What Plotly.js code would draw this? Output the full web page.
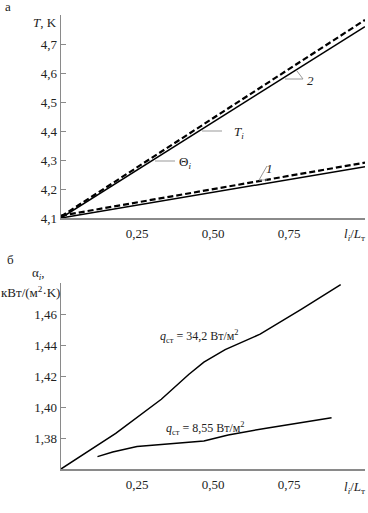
<!DOCTYPE html>
<html>
<head>
<meta charset="utf-8">
<script src="https://cdn.plot.ly/plotly-3.0.1.min.js"></script>
<style>html,body{margin:0;padding:0;background:#fff;}#chart{width:368px;height:513px;}</style>
</head>
<body>
<div id="chart"></div>
<script>
// ---- data ----
const xRel = [0, 0.5, 1.0];
const T2 = [4.1, 4.43, 4.76];          // curve 2, T_i (solid)
const Theta2 = [4.105, 4.444, 4.783];  // curve 2, Θ_i (dashed)
const T1 = [4.1, 4.189, 4.277];        // curve 1, T_i (solid)
const Theta1 = [4.108, 4.200, 4.291];  // curve 1, Θ_i (dashed)

const x342 = [0, 0.18, 0.33, 0.42, 0.47, 0.54, 0.655, 0.79, 0.92];
const a342 = [1.36, 1.383, 1.405, 1.421, 1.429, 1.437, 1.447, 1.463, 1.479];
const x855 = [0.12, 0.17, 0.25, 0.47, 0.55, 0.68, 0.89];
const a855 = [1.368, 1.371, 1.3745, 1.378, 1.382, 1.3865, 1.393];

const xTickVals = [0.125, 0.25, 0.375, 0.5, 0.625, 0.75, 0.875, 1.0];
const xTickText = ['', '0,25', '', '0,50', '', '0,75', '', ''];
const xLabelVals = [0.25, 0.5, 0.75];
const xLabelText = ['0,25', '0,50', '0,75'];
const yTopVals = [4.1, 4.2, 4.3, 4.4, 4.5, 4.6, 4.7, 4.8];
const yTopText = ['4,1', '4,2', '4,3', '4,4', '4,5', '4,6', '4,7', ''];
const yBotVals = [1.38, 1.40, 1.42, 1.44, 1.46, 1.48];
const yBotText = ['1,38', '1,40', '1,42', '1,44', '1,46', ''];

// ---- layout helpers ----
const W = 368, H = 513;
const px = x => x / W;
const py = y => 1 - y / H;
const FONT = 'Liberation Serif';
const AX = '#8a8a8a';

const solid = {color: '#000', width: 1.5};
const dashed = {color: '#000', width: 2.2, dash: '6px,3px'};

const traces = [
  {x: xRel, y: T2, mode: 'lines', line: solid, xaxis: 'x', yaxis: 'y'},
  {x: xRel, y: Theta2, mode: 'lines', line: dashed, xaxis: 'x', yaxis: 'y'},
  {x: xRel, y: T1, mode: 'lines', line: solid, xaxis: 'x', yaxis: 'y'},
  {x: xRel, y: Theta1, mode: 'lines', line: dashed, xaxis: 'x', yaxis: 'y'},
  {x: x342, y: a342, mode: 'lines', line: solid, xaxis: 'x2', yaxis: 'y2'},
  {x: x855, y: a855, mode: 'lines', line: solid, xaxis: 'x2', yaxis: 'y2'}
];

const XDOM = [px(61), px(365)];
// labelled axis: invisible outside ticks push the labels down
function xax(anchor) {
  return {
    domain: XDOM, range: [0, 1.0], anchor: anchor,
    showline: true, linecolor: AX, linewidth: 1.5,
    ticks: 'outside', ticklen: 3, tickwidth: 1, tickcolor: 'rgba(0,0,0,0)',
    tickvals: xLabelVals, ticktext: xLabelText,
    showgrid: false, zeroline: false, fixedrange: true,
    tickfont: {family: FONT, size: 13, color: '#222'}
  };
}
// overlay axis that only draws the inside ticks
function xticks(over, anchor) {
  return {
    domain: XDOM, range: [0, 1.0], anchor: anchor, overlaying: over, side: 'bottom',
    showline: false, showticklabels: false,
    ticks: 'inside', ticklen: 5, tickwidth: 1, tickcolor: AX,
    tickvals: xTickVals, ticktext: xTickText,
    showgrid: false, zeroline: false, fixedrange: true
  };
}
function yax(anchor, dom, rng, vals, text) {
  return {
    domain: dom, range: rng, anchor: anchor,
    showline: true, linecolor: AX, linewidth: 1.5,
    ticks: 'inside', ticklen: 5, tickwidth: 1, tickcolor: AX,
    tickvals: vals, ticktext: text,
    showgrid: false, zeroline: false, fixedrange: true,
    tickfont: {family: FONT, size: 13, color: '#222'}
  };
}

const txt = (x, y, text, opts) => Object.assign({
  xref: 'paper', yref: 'paper', x: px(x), y: py(y), text: text,
  showarrow: false, xanchor: 'center', yanchor: 'middle',
  font: {family: FONT, size: 13, color: '#222'}
}, opts || {});

const leader = (x0, y0, x1, y1) => ({
  type: 'line', xref: 'paper', yref: 'paper',
  x0: px(x0), y0: py(y0), x1: px(x1), y1: py(y1),
  line: {color: '#999', width: 1}
});

const small = {font: {family: FONT, size: 12, color: '#222'}};

const layout = {
  width: W, height: H,
  margin: {l: 0, r: 0, t: 0, b: 0},
  paper_bgcolor: '#fff', plot_bgcolor: '#fff',
  font: {family: FONT, size: 13, color: '#222'},
  showlegend: false,
  xaxis: xax('y'),
  yaxis: yax('x', [py(218), py(15)], [4.1, 4.8], yTopVals, yTopText),
  xaxis2: xax('y2'),
  yaxis2: yax('x2', [py(469), py(283)], [1.36, 1.48], yBotVals, yBotText),
  xaxis3: xticks('x', 'y'),
  xaxis4: xticks('x2', 'y2'),
  annotations: [
    txt(8, 6, 'а'),
    txt(45, 23, '<i>T</i>, K'),
    txt(367, 235, '<i>l<sub>i</sub></i>/<i>L</i><sub>т</sub>', {xanchor: 'right'}),
    txt(232, 132, '<i>T<sub>i</sub></i>', {xanchor: 'left'}),
    txt(177, 162, 'Θ<sub><i>i</i></sub>', {xanchor: 'left'}),
    txt(305, 80, '<i>2</i>', {xanchor: 'left'}),
    txt(264, 168, '<i>1</i>', {xanchor: 'left'}),
    txt(10, 259, 'б'),
    txt(38, 273, 'α<sub><i>i</i></sub>,'),
    txt(30, 292, 'кВт/(м<sup>2</sup>·K)'),
    txt(367, 487, '<i>l<sub>i</sub></i>/<i>L</i><sub>т</sub>', {xanchor: 'right'}),
    txt(199, 336, '<i>q</i><sub>ст</sub> = 34,2 Вт/м<sup>2</sup>', small),
    txt(205, 428, '<i>q</i><sub>ст</sub> = 8,55 Вт/м<sup>2</sup>', small)
  ],
  shapes: [
    leader(202, 131, 222, 131),
    leader(155, 161, 175, 161),
    leader(285, 79, 303, 79),
    leader(303, 79, 297, 71),
    leader(259, 180, 267, 180),
    leader(259, 180, 267, 166)
  ]
};

Plotly.newPlot('chart', traces, layout, {staticPlot: true, displayModeBar: false});
</script>
</body>
</html>
